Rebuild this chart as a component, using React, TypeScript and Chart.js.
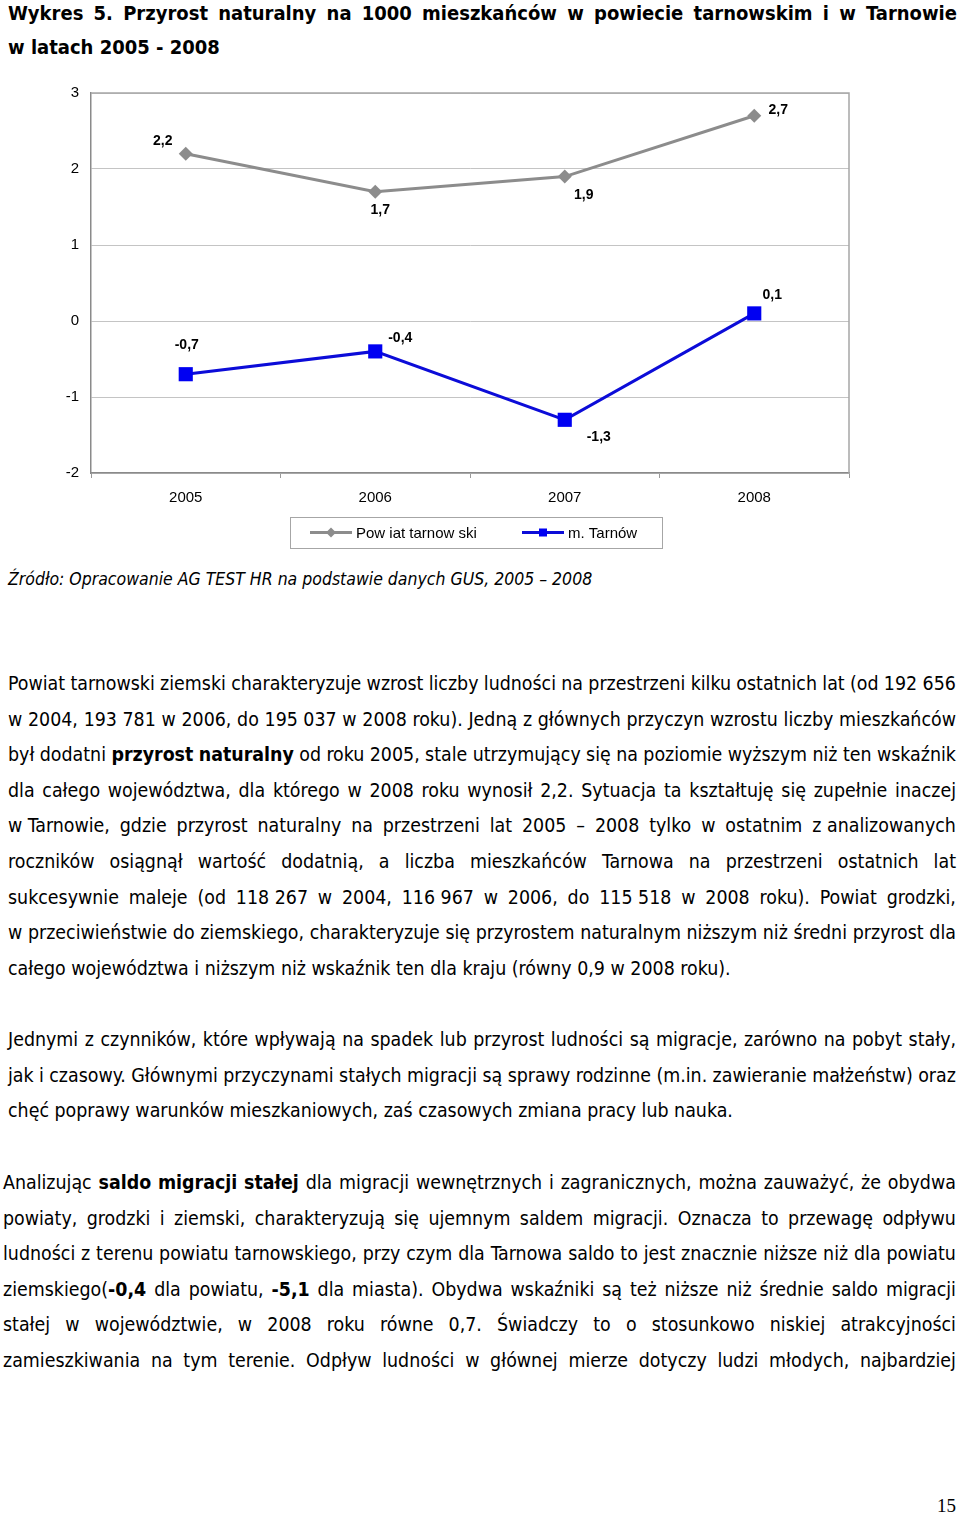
import React, { useEffect, useRef } from 'react';
import { Chart, registerables } from 'chart.js';

Chart.register(...registerables);

// ---------- data ----------
const years = ['2005', '2006', '2007', '2008'];
const powiatValues = [2.2, 1.7, 1.9, 2.7];
const tarnowValues = [-0.7, -0.4, -1.3, 0.1];
const seriesNames = ['Pow iat tarnow ski', 'm. Tarnów'];
const yMin = -2;
const yMax = 3;
const yStep = 1;

const titleLines = [
  'Wykres 5. Przyrost naturalny na 1000 mieszkańców w powiecie tarnowskim i w Tarnowie',
  'w latach 2005 - 2008',
];
const sourceText = 'Źródło: Opracowanie AG TEST HR na podstawie danych GUS, 2005 – 2008';

const paragraph1 = [
  'Powiat tarnowski ziemski charakteryzuje wzrost liczby ludności na przestrzeni kilku ostatnich lat (od 192\u00a0656',
  'w 2004, 193\u00a0781 w 2006, do 195\u00a0037 w 2008 roku). Jedną z głównych przyczyn wzrostu liczby mieszkańców',
  'był dodatni **przyrost naturalny** od roku 2005, stale utrzymujący się na poziomie wyższym niż ten wskaźnik',
  'dla całego województwa, dla którego w 2008 roku wynosił 2,2. Sytuacja ta kształtuję się zupełnie inaczej',
  'w\u00a0Tarnowie, gdzie przyrost naturalny na przestrzeni lat 2005 – 2008 tylko w ostatnim z\u00a0analizowanych',
  'roczników osiągnął wartość dodatnią, a liczba mieszkańców Tarnowa na przestrzeni ostatnich lat',
  'sukcesywnie maleje (od 118\u00a0267 w 2004, 116\u00a0967 w 2006, do 115\u00a0518 w 2008 roku). Powiat grodzki,',
  'w przeciwieństwie do ziemskiego, charakteryzuje się przyrostem naturalnym niższym niż średni przyrost dla',
  'całego województwa i niższym niż wskaźnik ten dla kraju (równy 0,9 w 2008 roku).',
];
const paragraph2 = [
  'Jednymi z czynników, które wpływają na spadek lub przyrost ludności są migracje, zarówno na pobyt stały,',
  'jak i czasowy. Głównymi przyczynami stałych migracji są sprawy rodzinne (m.in. zawieranie małżeństw) oraz',
  'chęć poprawy warunków mieszkaniowych, zaś czasowych zmiana pracy lub nauka.',
];
const paragraph3 = [
  'Analizując **saldo migracji stałej** dla migracji wewnętrznych i zagranicznych, można zauważyć, że obydwa',
  'powiaty, grodzki i ziemski, charakteryzują się ujemnym saldem migracji. Oznacza to przewagę odpływu',
  'ludności z terenu powiatu tarnowskiego, przy czym dla Tarnowa saldo to jest znacznie niższe niż dla powiatu',
  'ziemskiego(**-0,4** dla powiatu, **-5,1** dla miasta). Obydwa wskaźniki są też niższe niż średnie saldo migracji',
  'stałej w województwie, w 2008 roku równe 0,7. Świadczy to o stosunkowo niskiej atrakcyjności',
  'zamieszkiwania na tym terenie. Odpływ ludności w głównej mierze dotyczy ludzi młodych, najbardziej',
];
const pageNumber = '15';

// ---------- styling (not data) ----------
const GRAY = '#8c8c8c';
const BLUE_LINE = '#0c0cd8';
const BLUE_PT = '#0000f2';
const CHART_FONT = "Arial, 'Liberation Sans', Helvetica, sans-serif";
const TEXT_FONT = "'DejaVu Sans Condensed', 'DejaVu Sans', sans-serif";

const labelOffsets = [
  [[-23, -13], [5, 18], [19, 19], [24, -6]],
  [[1, -29], [25, -13], [34, 17], [18, -18]],
];

const fmt = (v: number) => v.toFixed(1).replace('.', ',');

const dataLabelPlugin = {
  id: 'dataLabels',
  afterDatasetsDraw(chart: any) {
    const ctx = chart.ctx;
    ctx.save();
    ctx.font = `bold 14px ${CHART_FONT}`;
    ctx.fillStyle = '#000';
    ctx.textAlign = 'center';
    ctx.textBaseline = 'middle';
    chart.data.datasets.forEach((ds: any, di: number) => {
      const meta = chart.getDatasetMeta(di);
      meta.data.forEach((pt: any, i: number) => {
        const [dx, dy] = labelOffsets[di][i];
        ctx.fillText(fmt(ds.data[i]), pt.x + dx, pt.y + dy);
      });
    });
    ctx.restore();
  },
};

const framePlugin = {
  id: 'frame',
  afterDraw(chart: any) {
    const { ctx, chartArea } = chart;
    ctx.save();
    ctx.strokeStyle = '#a6a6a6';
    ctx.lineWidth = 1.5;
    ctx.beginPath();
    ctx.moveTo(chartArea.left, chartArea.top);
    ctx.lineTo(chartArea.right, chartArea.top);
    ctx.lineTo(chartArea.right, chartArea.bottom);
    ctx.stroke();
    ctx.restore();
  },
};

const legendPlugin = {
  id: 'customLegend',
  afterDraw(chart: any) {
    const ctx = chart.ctx;
    const bx = 290, by = 437, bw = 372, bh = 31;
    ctx.save();
    ctx.strokeStyle = '#a6a6a6';
    ctx.lineWidth = 1;
    ctx.strokeRect(bx + 0.5, by + 0.5, bw, bh);
    const cy = by + bh / 2;
    const items = [
      { x: 310, color: GRAY, pt: GRAY, style: 'diamond' },
      { x: 522, color: BLUE_LINE, pt: BLUE_PT, style: 'square' },
    ];
    ctx.font = `15px ${CHART_FONT}`;
    ctx.textBaseline = 'middle';
    ctx.textAlign = 'left';
    items.forEach((it, i) => {
      ctx.strokeStyle = it.color;
      ctx.lineWidth = 3;
      ctx.beginPath();
      ctx.moveTo(it.x, cy);
      ctx.lineTo(it.x + 42, cy);
      ctx.stroke();
      ctx.fillStyle = it.pt;
      const mx = it.x + 21;
      if (it.style === 'diamond') {
        ctx.beginPath();
        ctx.moveTo(mx, cy - 5);
        ctx.lineTo(mx + 5, cy);
        ctx.lineTo(mx, cy + 5);
        ctx.lineTo(mx - 5, cy);
        ctx.closePath();
        ctx.fill();
      } else {
        ctx.fillRect(mx - 4, cy - 4, 8, 8);
      }
      ctx.fillStyle = '#000';
      ctx.fillText(chart.data.datasets[i].label, it.x + 46, cy + 1);
    });
    ctx.restore();
  },
};

function ChartView() {
  const ref = useRef<HTMLCanvasElement>(null);
  useEffect(() => {
    if (!ref.current) return;
    const chart = new Chart(ref.current, {
      type: 'line',
      data: {
        labels: years,
        datasets: [
          {
            label: seriesNames[0],
            data: powiatValues,
            borderColor: GRAY,
            backgroundColor: GRAY,
            borderWidth: 3,
            pointStyle: 'rectRot',
            pointRadius: 7,
            pointBorderWidth: 0,
            pointBackgroundColor: GRAY,
            tension: 0,
          },
          {
            label: seriesNames[1],
            data: tarnowValues,
            borderColor: BLUE_LINE,
            backgroundColor: BLUE_PT,
            borderWidth: 3,
            pointStyle: 'rect',
            pointRadius: 10,
            pointBorderWidth: 0,
            pointBackgroundColor: BLUE_PT,
            tension: 0,
          },
        ],
      },
      options: {
        animation: false,
        responsive: false,
        maintainAspectRatio: false,
        layout: { autoPadding: false, padding: { left: 0, right: 21, top: 13, bottom: 52 } },
        plugins: {
          legend: { display: false },
          tooltip: { enabled: false },
        },
        scales: {
          x: {
            offset: true,
            grid: {
              offset: true,
              drawOnChartArea: false,
              drawTicks: true,
              tickLength: 5,
              color: '#9a9a9a',
            },
            border: { display: true, color: '#8a8a8a', width: 1.5 },
            ticks: {
              color: '#000',
              font: { family: CHART_FONT, size: 15 },
              padding: 11,
              autoSkip: false,
              maxRotation: 0,
            },
            afterFit: (s: any) => { s.height = 35; },
          },
          y: {
            min: yMin,
            max: yMax,
            grid: { color: '#c4c4c4', drawTicks: false, lineWidth: 1 },
            border: { display: true, color: '#8a8a8a', width: 1.5 },
            ticks: {
              stepSize: yStep,
              color: '#000',
              font: { family: CHART_FONT, size: 15 },
              padding: 12,
              callback: (v: any) => String(v),
            },
            afterFit: (s: any) => { s.width = 91; s.paddingTop = 0; s.paddingBottom = 0; },
          },
        },
      },
      plugins: [dataLabelPlugin, framePlugin, legendPlugin],
    });
    return () => chart.destroy();
  }, []);
  return (
    <canvas
      ref={ref}
      width={870}
      height={480}
      style={{ position: 'absolute', left: 0, top: 80, width: 870, height: 480 }}
    />
  );
}

function renderWords(text: string) {
  const words = text.split(' ');
  let bold = false;
  return words.map((w, wi) => {
    const parts = w.split('**');
    const spans = parts.map((p, pi) => {
      if (pi > 0) bold = !bold;
      return p ? (
        <span key={pi} style={bold ? { fontWeight: 'bold' } : undefined}>{p}</span>
      ) : null;
    });
    return <span key={wi} style={{ whiteSpace: 'pre' }}>{spans}</span>;
  });
}

function TextLine(props: {
  text: string; cy: number; left: number; right: number; justify: boolean;
  size: number; bold?: boolean; italic?: boolean; family?: string;
}) {
  const { text, cy, left, right, justify, size, bold, italic, family } = props;
  const style: React.CSSProperties = {
    position: 'absolute',
    left,
    width: right - left,
    top: cy - 12,
    height: 24,
    lineHeight: '24px',
    fontSize: size,
    fontFamily: family || TEXT_FONT,
    fontWeight: bold ? 'bold' : 'normal',
    fontStyle: italic ? 'italic' : 'normal',
    color: '#000',
    whiteSpace: 'nowrap',
  };
  if (justify) {
    return (
      <div style={{ ...style, display: 'flex', justifyContent: 'space-between' }}>
        {renderWords(text)}
      </div>
    );
  }
  const words = renderWords(text);
  const withSpaces: React.ReactNode[] = [];
  words.forEach((w, i) => {
    if (i > 0) withSpaces.push(' ');
    withSpaces.push(w);
  });
  return <div style={style}>{withSpaces}</div>;
}

function Paragraph(props: { lines: string[]; start: number; step: number; left: number; right: number; lastJustified?: boolean }) {
  const { lines, start, step, left, right, lastJustified } = props;
  return (
    <>
      {lines.map((t, i) => (
        <TextLine
          key={i}
          text={t}
          cy={start + i * step}
          left={left}
          right={right}
          size={19.4}
          justify={i < lines.length - 1 || !!lastJustified}
        />
      ))}
    </>
  );
}

export default function App() {
  return (
    <div style={{ position: 'absolute', left: 0, top: 0, width: 960, height: 1516, background: '#fff', overflow: 'hidden' }}>
      <TextLine text={titleLines[0]} cy={13} left={8} right={957} justify size={20} bold />
      <TextLine text={titleLines[1]} cy={47} left={8} right={957} justify={false} size={20} bold />
      <ChartView />
      <TextLine text={sourceText} cy={579} left={8} right={700} justify={false} size={17.5} italic />
      <Paragraph lines={paragraph1} start={684} step={35.6} left={8} right={956} />
      <Paragraph lines={paragraph2} start={1040} step={35.5} left={8} right={956} />
      <Paragraph lines={paragraph3} start={1183} step={35.6} left={3} right={956} lastJustified />
      <div
        style={{
          position: 'absolute', right: 4, top: 1494, height: 24, lineHeight: '24px',
          fontFamily: "'Liberation Serif', 'Times New Roman', serif", fontSize: 19, color: '#000',
        }}
      >
        {pageNumber}
      </div>
    </div>
  );
}
